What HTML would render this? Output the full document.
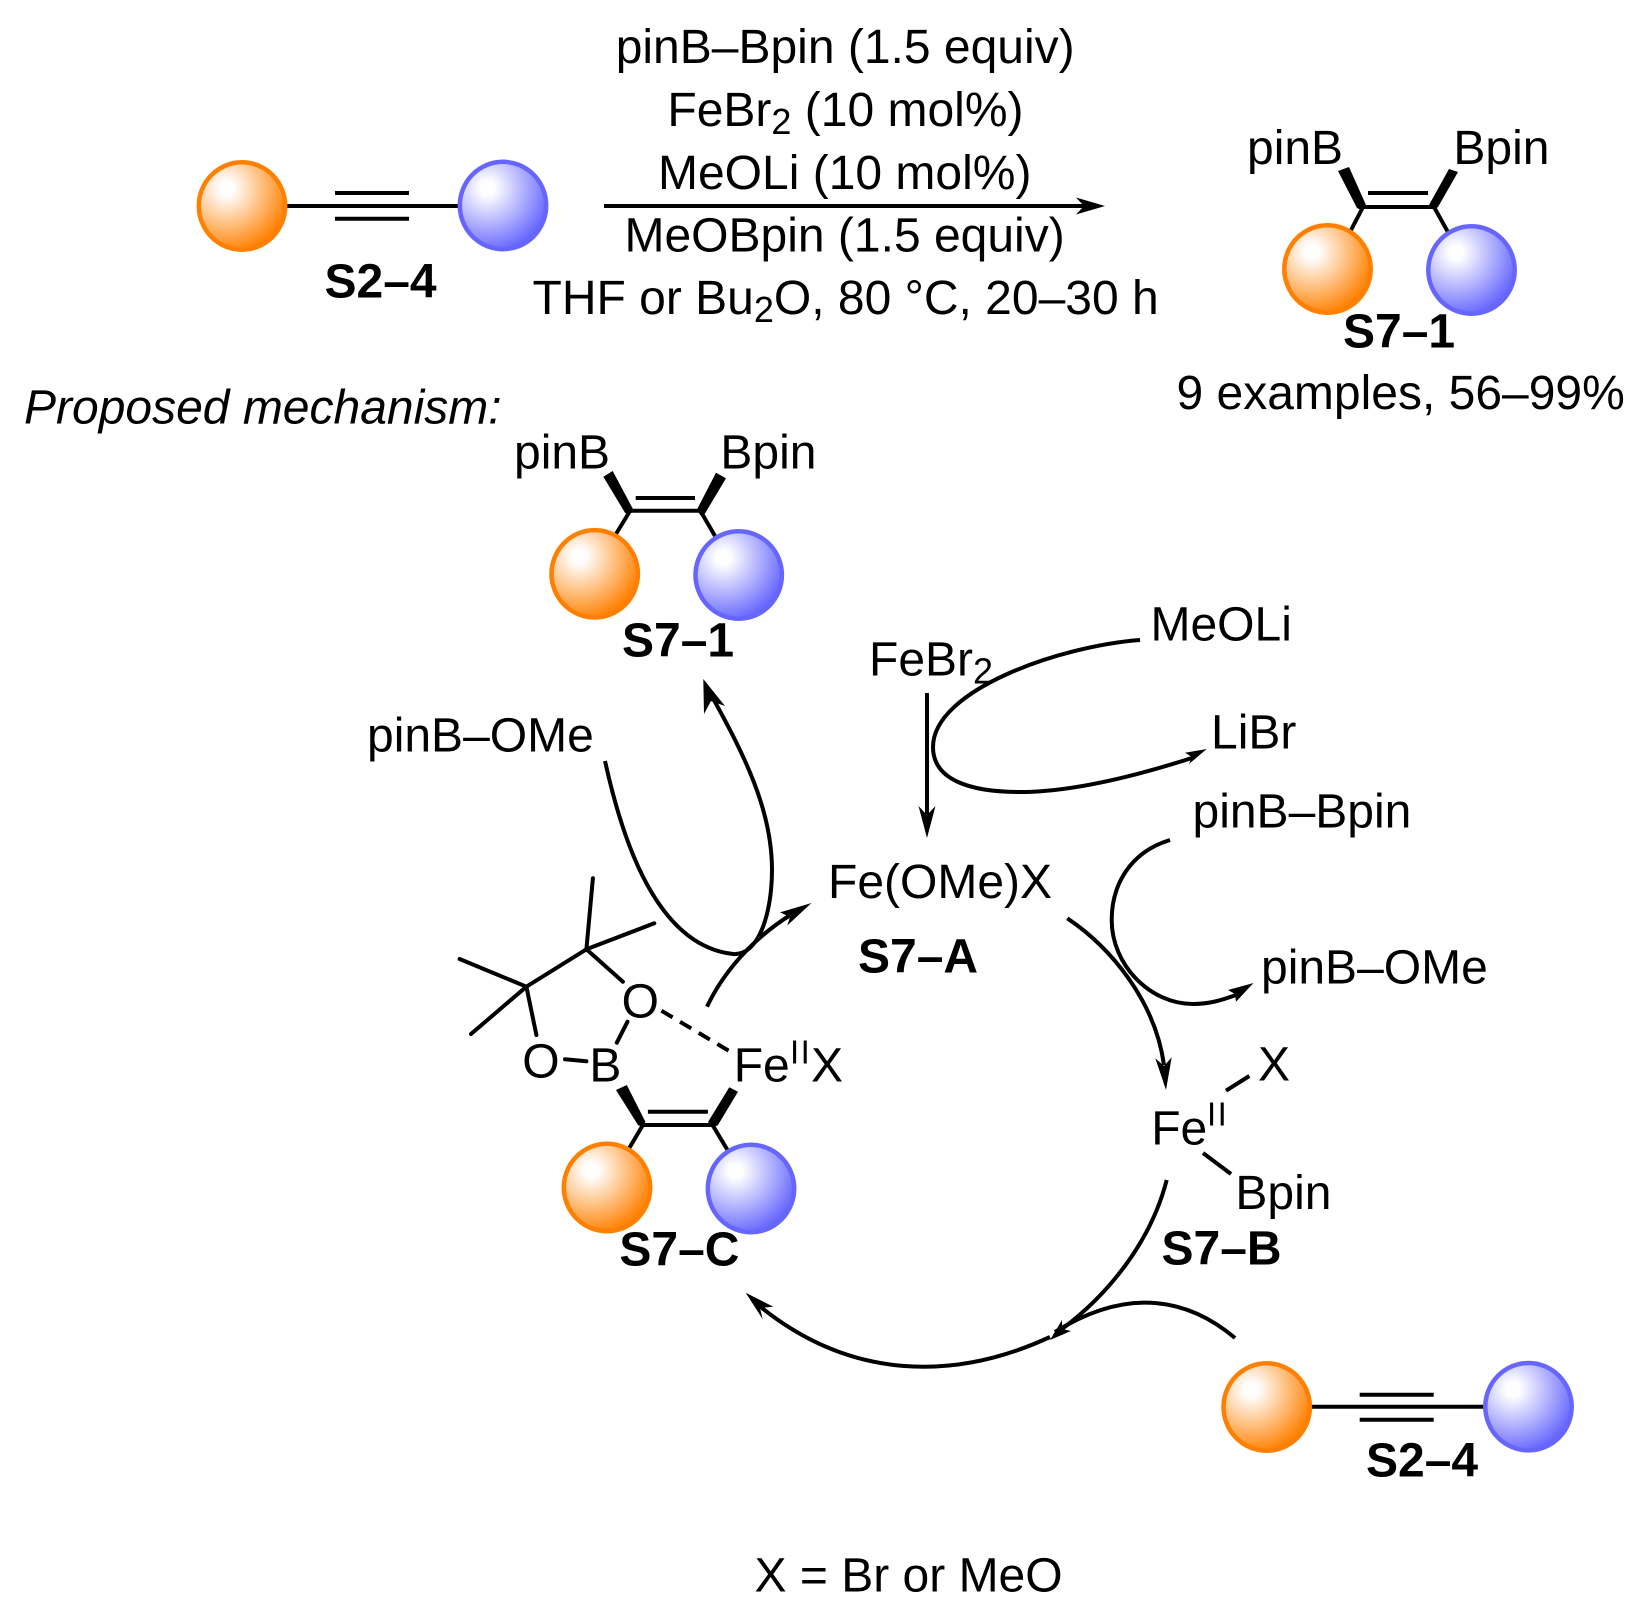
<!DOCTYPE html>
<html><head><meta charset="utf-8"><style>
html,body{margin:0;padding:0;background:#fff}
svg{display:block}
text{font-family:"Liberation Sans",Arial,sans-serif;font-size:48px;fill:#000;transform:translateY(.7px)}
.b{font-weight:bold}
.i{font-style:italic}
.s{font-size:36px}
.r{font-size:33px;letter-spacing:1.5px}
.l{fill:none;stroke:#000;stroke-width:4;stroke-linecap:butt}
.c{fill:none;stroke:#000;stroke-width:4}
.o{fill:url(#og);stroke:#ff8000;stroke-width:4.5}
.v{fill:url(#bg);stroke:#6666ff;stroke-width:4.5}
</style></head><body>
<svg width="1635" height="1615" viewBox="0 0 1635 1615" xmlns="http://www.w3.org/2000/svg">
<defs>
<radialGradient id="og" cx="0.32" cy="0.3" r="0.74"><stop offset="0" stop-color="#fff"/><stop offset="0.12" stop-color="#fffdfb"/><stop offset="1" stop-color="#ff8000"/></radialGradient>
<radialGradient id="bg" cx="0.32" cy="0.3" r="0.74"><stop offset="0" stop-color="#fff"/><stop offset="0.12" stop-color="#fdfdff"/><stop offset="1" stop-color="#6666ff"/></radialGradient>
</defs>

<!-- top reaction -->
<line class="l" x1="285" y1="206" x2="460" y2="206"/>
<line class="l" x1="335" y1="193" x2="409" y2="193"/>
<line class="l" x1="335" y1="218.7" x2="409" y2="218.7"/>
<ellipse class="o" cx="242" cy="206" rx="43.2" ry="43.7"/>
<ellipse class="v" cx="503" cy="205.5" rx="43.2" ry="43.7"/>
<text class="b" x="324.5" y="297">S2–4</text>

<line class="l" x1="604" y1="206" x2="1084" y2="206"/>
<polygon points="1105,206 1076,197.5 1084,206 1076,214.5"/>
<text x="615.7" y="62.3">pinB–Bpin (1.5 equiv)</text>
<text x="667.4" y="125.3">FeBr<tspan class="s" dy="8">2</tspan><tspan dy="-8"> (10 mol%)</tspan></text>
<text x="658" y="188.3">MeOLi (10 mol%)</text>
<text x="624.5" y="251">MeOBpin (1.5 equiv)</text>
<text x="532.5" y="313.3">THF or Bu<tspan class="s" dy="8">2</tspan><tspan dy="-8">O, 80 °C, 20–30 h</tspan></text>

<!-- top right product -->
<text x="1247" y="163.5">pinB</text>
<text x="1453.4" y="163.5">Bpin</text>
<polygon points="1338,171 1349,167 1366,205 1361,210 1357,208"/>
<polygon points="1449,169 1458,172 1438,207 1434,210 1429,205"/>
<line class="l" x1="1361" y1="207" x2="1435" y2="207"/>
<line class="l" x1="1368" y1="193" x2="1428" y2="193"/>
<line class="l" x1="1363" y1="207" x2="1350" y2="232"/>
<line class="l" x1="1434" y1="207" x2="1449" y2="234"/>
<ellipse class="o" cx="1327.5" cy="269" rx="43.2" ry="43.7"/>
<ellipse class="v" cx="1471.5" cy="270" rx="43.2" ry="43.7"/>
<text class="b" x="1343" y="346.7">S7–1</text>
<text x="1176.5" y="408.5">9 examples, 56–99%</text>

<text class="i" x="24" y="423">Proposed mechanism:</text>

<!-- mechanism S7-1 -->
<text x="514" y="468">pinB</text>
<text x="720.4" y="468">Bpin</text>
<polygon points="603.3,476.7 612.7,471 633.5,510 629,515 625,512.7"/>
<polygon points="716,472.7 726,478.3 705,513.5 701,516 696.7,510"/>
<line class="l" x1="628" y1="510.7" x2="704" y2="510.7"/>
<line class="l" x1="635.7" y1="498" x2="695" y2="498"/>
<line class="l" x1="630" y1="511" x2="616" y2="534"/>
<line class="l" x1="700.5" y1="511" x2="715" y2="536"/>
<ellipse class="o" cx="594.7" cy="573.8" rx="43.2" ry="43.7"/>
<ellipse class="v" cx="738.7" cy="575" rx="43.2" ry="43.7"/>
<text class="b" x="622" y="655.9">S7–1</text>

<text x="367" y="750.6">pinB–OMe</text>
<path class="c" d="M605,761 C618,820 650,945 733,954 C760,956 772,910 772,870 C772,810 745,755 705,684"/>
<polygon points="703.3,679 725,706 711,701 704,714"/>

<!-- FeBr2 / MeOLi / LiBr -->
<text x="869" y="674.7">FeBr<tspan class="s" dy="8">2</tspan></text>
<text x="1150.5" y="640">MeOLi</text>
<text x="1211" y="748">LiBr</text>
<line class="l" x1="927" y1="693" x2="927" y2="815"/>
<polygon points="927,838 918.5,806 927,815 935.5,806"/>
<path class="c" d="M1140,640 C1060,646 933,690 933,747 C933,780 970,792 1020,792 C1070,792 1130,778 1195,757"/>
<polygon points="1206.7,749 1185,752.7 1192,757 1189,764"/>

<text x="828" y="897.3">Fe(OMe)X</text>
<text class="b" x="858" y="971.7">S7–A</text>

<text x="1192.5" y="826.7">pinB–Bpin</text>
<path class="c" d="M1170,840 C1130,852 1111.7,885 1111.7,920 C1111.7,965 1150,1004 1193,1004 C1210,1004 1222,1000 1236,995"/>
<polygon points="1253.5,983 1228,990 1235,994 1236,1001.7"/>
<text x="1261" y="983">pinB–OMe</text>

<path class="c" d="M1067.3,918.3 C1110,947 1155,1000 1164,1065"/>
<polygon points="1166,1090 1155.3,1058.3 1164,1066 1171.7,1057.3"/>

<!-- S7-B -->
<text x="1258" y="1080">X</text>
<line class="l" x1="1226" y1="1090.7" x2="1249.3" y2="1076"/>
<text x="1151.2" y="1144">Fe</text>
<text class="r" x="1207" y="1125">II</text>
<line class="l" x1="1203" y1="1153" x2="1231" y2="1174"/>
<text x="1235.4" y="1208.5">Bpin</text>
<text class="b" x="1161.5" y="1264">S7–B</text>

<path class="c" d="M1166.7,1180 C1150,1245 1105,1297 1062,1329"/>
<polygon points="1050,1340 1062,1320 1062,1329 1071,1331"/>
<path class="c" d="M1235,1338 C1190,1300 1130,1285 1055,1332"/>
<path class="c" d="M1050,1337 C955,1381 850,1381 757,1304"/>
<polygon points="745.7,1292.7 773.3,1306.7 760,1308 762.7,1319.3"/>

<!-- S2-4 bottom -->
<line class="l" x1="1310" y1="1406.7" x2="1485" y2="1406.7"/>
<line class="l" x1="1359.7" y1="1394.7" x2="1433.7" y2="1394.7"/>
<line class="l" x1="1359.7" y1="1419.7" x2="1433.7" y2="1419.7"/>
<ellipse class="o" cx="1266.7" cy="1407" rx="43.2" ry="43.7"/>
<ellipse class="v" cx="1528.5" cy="1406.7" rx="43.2" ry="43.7"/>
<text class="b" x="1366" y="1475.7">S2–4</text>

<text x="754.5" y="1590.7">X = Br or MeO</text>

<!-- S7-C -->
<g class="c" style="stroke-linecap:round">
<line x1="586.4" y1="949.3" x2="592.9" y2="878.3"/>
<line x1="586.4" y1="949.3" x2="654.3" y2="923.3"/>
<line x1="586.4" y1="949.3" x2="526.4" y2="986.7"/>
<line x1="526.4" y1="986.7" x2="459.6" y2="959"/>
<line x1="526.4" y1="986.7" x2="471" y2="1034"/>
<line x1="586.4" y1="949.3" x2="622.9" y2="981.7"/>
<line x1="526.4" y1="986.7" x2="536.4" y2="1035"/>
<line x1="565" y1="1059.3" x2="586.4" y2="1061.3"/>
<line x1="627.5" y1="1021.7" x2="616.8" y2="1042.7"/>
</g>
<text x="621.6" y="1017">O</text>
<text x="522.3" y="1076.7">O</text>
<text x="589.4" y="1081">B</text>
<text x="733.7" y="1081">Fe</text>
<text class="r" x="790" y="1062.7">II</text>
<text x="811" y="1081">X</text>
<line class="l" x1="661.4" y1="1010.7" x2="728.6" y2="1050.7" stroke-dasharray="13 8.7"/>
<polygon points="616,1090 626.8,1085 645.5,1122 642,1127 638,1125"/>
<polygon points="729.3,1087.3 738,1091.7 718,1125 713,1128 708,1122"/>
<line class="l" x1="640" y1="1125" x2="714" y2="1125"/>
<line class="l" x1="647.9" y1="1111.7" x2="707.9" y2="1111.7"/>
<line class="l" x1="642.9" y1="1125" x2="629.3" y2="1148"/>
<line class="l" x1="712.5" y1="1125" x2="727.5" y2="1150"/>
<ellipse class="o" cx="607" cy="1187.5" rx="43.2" ry="43.7"/>
<ellipse class="v" cx="751" cy="1188.5" rx="43.2" ry="43.7"/>
<text class="b" x="619.4" y="1265">S7–C</text>

<path class="c" d="M707,1006.7 C722,975 750,940 792,914"/>
<polygon points="811.5,903 780,912.4 790,917 787.3,925.5"/>
</svg>
</body></html>
